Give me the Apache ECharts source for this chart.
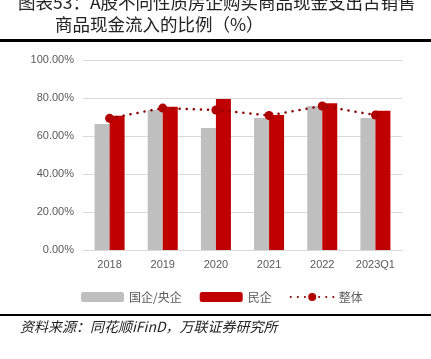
<!DOCTYPE html>
<html><head><meta charset="utf-8">
<script src="https://cdn.jsdelivr.net/npm/echarts@6/dist/echarts.min.js"></script>
<style>html,body{margin:0;padding:0;background:#fff}#c{width:431px;height:359px}</style>
</head><body><div id="c"></div>
<script>
const categories = ['2018','2019','2020','2021','2022','2023Q1'];
const stateOwned = [66.3, 73.7, 64.2, 69.5, 75.8, 69.5];
const privateOwned = [70.7, 75.4, 79.5, 71.0, 77.2, 73.3];
const overall = [69.3, 74.7, 73.7, 70.8, 75.8, 71.0];
const seriesNames = ['国企/央企','民企','整体'];
const titleLines = ['图表53：A股不同性质房企购买商品现金支出占销售','商品现金流入的比例（%）'];
const sourceText = '资料来源：同花顺iFinD，万联证券研究所';

const chart = echarts.init(document.getElementById('c'));
const CJK = '"Noto Sans CJK SC","Noto Sans",sans-serif';
chart.setOption({
  animation: false,
  textStyle: {fontFamily: CJK},
  grid: {left: 83, right: 29, top: 60, bottom: 109},
  xAxis: {
    type: 'category', data: categories,
    axisLine: {lineStyle: {color: '#d9d9d9'}},
    axisTick: {show: false},
    axisLabel: {color: '#595959', fontSize: 11, margin: 9, fontFamily: 'Arial, "Liberation Sans", sans-serif'}
  },
  yAxis: {
    type: 'value', min: 0, max: 100, interval: 20,
    axisLine: {show: false}, axisTick: {show: false},
    splitLine: {lineStyle: {color: '#d9d9d9'}},
    axisLabel: {color: '#595959', fontSize: 11, margin: 9, fontFamily: 'Arial, "Liberation Sans", sans-serif',
      formatter: v => v.toFixed(2) + '%'}
  },
  legend: {
    left: 76, top: 286, itemGap: 18, itemWidth: 43, itemHeight: 10,
    textStyle: {color: '#595959', fontSize: 12},
    data: [
      {name: seriesNames[0], icon: 'roundRect'},
      {name: seriesNames[1], icon: 'roundRect'},
      {name: seriesNames[2]}
    ]
  },
  series: [
    {name: seriesNames[0], type: 'bar', data: stateOwned, barWidth: 15, barGap: '0%', itemStyle: {color: '#BFBFBF'}},
    {name: seriesNames[1], type: 'bar', data: privateOwned, barWidth: 15, itemStyle: {color: '#C00000'}},
    {name: seriesNames[2], type: 'line', data: overall, symbol: 'circle', symbolSize: 9,
      itemStyle: {color: '#B00000'},
      lineStyle: {color: '#8B0000', width: 2.5, type: [0.1, 7], cap: 'round'}}
  ],
  graphic: [
    {type: 'text', left: 18, top: -6, style: {text: titleLines[0], font: '17.5px ' + CJK, fill: '#222'}},
    {type: 'text', left: 55, top: 16, style: {text: titleLines[1], font: '17.5px ' + CJK, fill: '#222'}},
    {type: 'rect', shape: {x: 0, y: 39, width: 431, height: 3}, style: {fill: '#000'}},
    {type: 'rect', shape: {x: 0, y: 314, width: 431, height: 2}, style: {fill: '#000'}},
    {type: 'text', left: 20, top: 320, style: {text: sourceText, font: 'italic 14px ' + CJK, fill: '#222'}}
  ]
});
</script></body></html>
